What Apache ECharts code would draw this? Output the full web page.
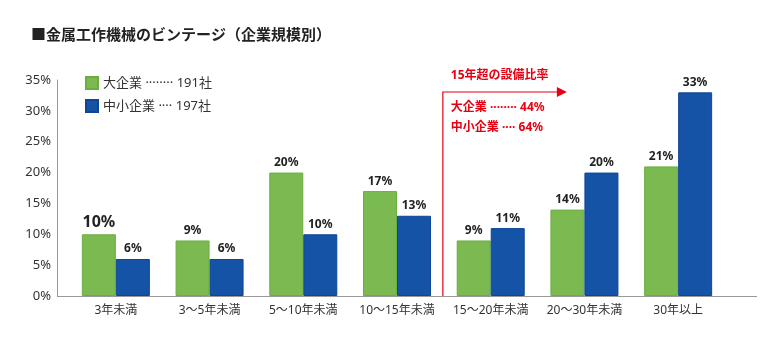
<!DOCTYPE html>
<html><head><meta charset="utf-8">
<script src="https://cdn.jsdelivr.net/npm/echarts@6/dist/echarts.min.js"></script>
<style>html,body{margin:0;padding:0;background:#fff}#c{width:766px;height:340px}</style>
</head><body><div id="c"></div>
<script>
const categories = ['3年未満','3～5年未満','5～10年未満','10～15年未満','15～20年未満','20～30年未満','30年以上'];
const largeValues = [10, 9, 20, 17, 9, 14, 21];
const smallValues = [6, 6, 10, 13, 11, 20, 33];
const yTicks = [0, 5, 10, 15, 20, 25, 30, 35];
const legendNames = ['大企業 ········ 191社', '中小企業 ···· 197社'];
const noteTitle = '15年超の設備比率';
const noteLines = ['大企業 ········ 44%', '中小企業 ···· 64%'];

const FONT = '"Noto Sans", "Noto Sans CJK JP", sans-serif';
const GREEN = '#7aba50', BLUE = '#1553a6', RED = '#e60012';
const chart = echarts.init(document.getElementById('c'));

const lbl = () => ({
  show: true, position: 'top', distance: 4, fontFamily: FONT, fontWeight: 'bold',
  fontSize: 12, color: '#222', formatter: p => p.value + '%'
});

chart.setOption({
  animation: false,
  textStyle: { fontFamily: FONT },
  title: { text: '■金属工作機械のビンテージ（企業規模別）', left: 26, top: 22,
    textStyle: { fontFamily: '"Noto Sans CJK JP", sans-serif', fontSize: 15, fontWeight: 'bold', color: '#222' } },
  legend: { orient: 'vertical', left: 80, top: 71, itemWidth: 12, itemHeight: 12, itemGap: 9,
    icon: 'rect', textStyle: { fontFamily: FONT, fontSize: 13, color: '#333' },
    data: [legendNames[0], legendNames[1]] },
  grid: { left: 69, right: 41, top: 80, bottom: 44 },
  xAxis: { type: 'category', data: categories,
    axisLine: { lineStyle: { color: '#999' } }, axisTick: { show: false },
    axisLabel: { interval: 0, fontFamily: FONT, fontSize: 12, color: '#333', margin: 9 } },
  yAxis: { type: 'value', min: yTicks[0], max: yTicks[yTicks.length-1], interval: 5, offset: 12,
    axisLine: { show: true, lineStyle: { color: '#999' } }, axisTick: { show: false },
    splitLine: { show: false },
    axisLabel: { fontFamily: FONT, fontSize: 13, color: '#333', margin: 6, formatter: v => v + '%' } },
  series: [
    { name: legendNames[0], type: 'bar', data: largeValues.map((v, i) => i === 0 ?
        { value: v, label: { fontSize: 16 } } : v),
      barWidth: 34, barGap: '0%', itemStyle: { color: GREEN, borderColor: '#6aae40', borderWidth: 1 },
      label: lbl() },
    { name: legendNames[1], type: 'bar', data: smallValues,
      barWidth: 34, itemStyle: { color: BLUE, borderColor: '#0f4596', borderWidth: 1 },
      label: lbl() }
  ]
});

function drawNote() {
  const c3 = chart.convertToPixel({ xAxisIndex: 0 }, categories[3]);
  const c4 = chart.convertToPixel({ xAxisIndex: 0 }, categories[4]);
  const x = (c3 + c4) / 2 - 1;
  const y0 = chart.convertToPixel({ yAxisIndex: 0 }, 0);
  const yTop = 92;
  chart.setOption({ graphic: [
    { type: 'line', shape: { x1: 57, y1: y0 + 0.5, x2: 757, y2: y0 + 0.5 }, style: { stroke: '#999', lineWidth: 1 }, z: 5 },
    { type: 'polyline', shape: { points: [[x, y0], [x, yTop], [x + 115, yTop]] },
      style: { stroke: RED, lineWidth: 1.2, fill: null }, z: 10 },
    { type: 'polygon', shape: { points: [[x + 114, yTop - 5], [x + 124, yTop], [x + 114, yTop + 5]] },
      style: { fill: RED }, z: 10 },
    { type: 'text', left: x + 8, top: 70, style: { text: noteTitle, font: 'bold 12px ' + FONT, fill: RED }, z: 10 },
    { type: 'text', left: x + 8, top: 102, style: { text: noteLines[0], font: 'bold 12px ' + FONT, fill: RED }, z: 10 },
    { type: 'text', left: x + 8, top: 122, style: { text: noteLines[1], font: 'bold 12px ' + FONT, fill: RED }, z: 10 }
  ]});
}
drawNote();
</script></body></html>
